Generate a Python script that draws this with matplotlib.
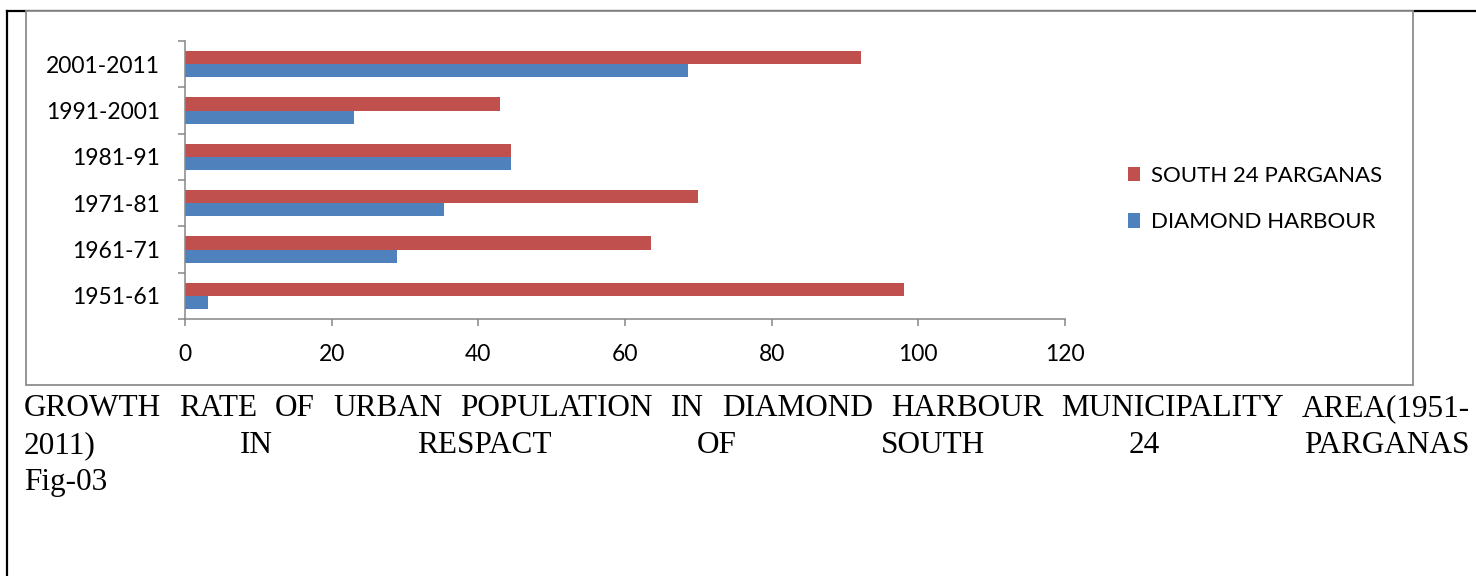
import numpy as np
import matplotlib.pyplot as plt
from matplotlib.patches import Rectangle
from matplotlib.lines import Line2D

# growth rate values (bottom to top)
periods = ['1951-61', '1961-71', '1971-81', '1981-91', '1991-2001', '2001-2011']
south24 = [98.0, 63.5, 69.9, 44.4, 42.9, 92.2]
diamond = [3.2, 28.9, 35.3, 44.4, 23.1, 68.6]
xticks = [0, 20, 40, 60, 80, 100, 120]

title_1 = "GROWTH RATE OF URBAN POPULATION IN DIAMOND HARBOUR MUNICIPALITY AREA(1951-"
title_2 = "2011) IN RESPACT OF SOUTH 24 PARGANAS"
title_3 = "Fig-03"

W, H = 1476, 576
red = '#C0504D'
blue = '#4F81BD'
grey = '#868686'

fig = plt.figure(figsize=(W / 100, H / 100), dpi=100)

def fx(px):
    return px / W

def fy(py):
    # pixel rows counted from top
    return 1 - py / H

# page border lines and chart frame
fig.add_artist(Line2D([fx(7), fx(7)], [fy(11), 0], color='black', lw=1.6))
fig.add_artist(Line2D([fx(7), fx(W)], [fy(11), fy(11)], color='black', lw=1.6))
fig.add_artist(Rectangle((fx(26), fy(385)), fx(1413 - 26), (385 - 11) / H,
                         facecolor='white', edgecolor='#8c8c8c', lw=1.3, zorder=2))

ax = fig.add_axes([fx(185), fy(319), fx(1065 - 185), (319 - 41) / H])
ax.set_zorder(3)
ax.patch.set_alpha(0)

y = np.arange(len(periods))
h = 0.286
ax.barh(y + h / 2, south24, height=h, color=red, label='SOUTH 24 PARGANAS')
ax.barh(y - h / 2, diamond, height=h, color=blue, label='DIAMOND HARBOUR')

ax.set_xlim(0, 120)
ax.set_ylim(-0.5, len(periods) - 0.5)
ax.set_xticks(xticks)
ax.set_yticks(y)
ax.set_yticklabels(periods)
ax.set_yticks(np.arange(-0.5, len(periods)), minor=True)

for s in ['top', 'right']:
    ax.spines[s].set_visible(False)
for s in ['left', 'bottom']:
    ax.spines[s].set_color(grey)
    ax.spines[s].set_linewidth(1.1)

tick_font = 'Lato'
ax.tick_params(axis='x', length=5, width=1.1, color=grey, pad=13, labelsize=16.5)
ax.tick_params(axis='y', which='major', length=0, pad=18, labelsize=16.5)
ax.tick_params(axis='y', which='minor', length=5, width=1.1, color=grey)
for lab in ax.get_xticklabels() + ax.get_yticklabels():
    lab.set_fontfamily(tick_font)

handles, labels = ax.get_legend_handles_labels()
leg = fig.legend(handles, labels, loc='center left',
                 bbox_to_anchor=(fx(1128), fy(199)), frameon=False,
                 prop={'family': tick_font, 'size': 16},
                 borderpad=0, borderaxespad=0,
                 handlelength=0.55, handleheight=0.6, handletextpad=0.5,
                 labelspacing=1.2)
leg.set_zorder(4)

# justified caption under the chart
serif = 'Liberation Serif'
tsize = 22.5

def justify(text, base, x0, x1):
    r = fig.canvas.get_renderer()
    words = text.split()
    items = [fig.text(0, fy(base), w, family=serif, fontsize=tsize, va='baseline')
             for w in words]
    widths = [t.get_window_extent(r).width for t in items]
    gap = (x1 - x0 - sum(widths)) / (len(words) - 1)
    x = x0
    for t, w in zip(items, widths):
        t.set_x(fx(x))
        x += w + gap

justify(title_1, 416, 24, 1470)
justify(title_2, 453, 24, 1470)
fig.text(fx(24), fy(490), title_3, family=serif, fontsize=tsize, va='baseline')

fig.savefig('out.png', dpi=100)
